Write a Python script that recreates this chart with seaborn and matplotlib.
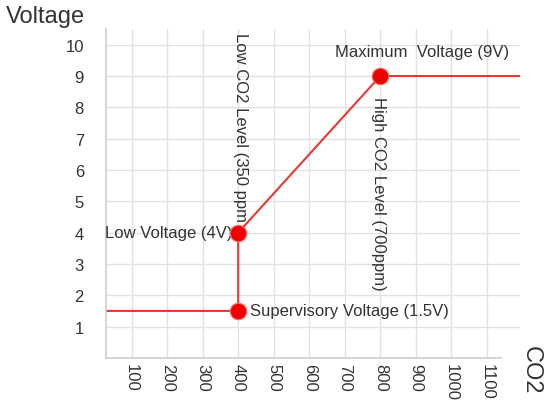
import numpy as np
import pandas as pd
import matplotlib
matplotlib.use("Agg")
import matplotlib.pyplot as plt
import seaborn as sns

# response curve of the CO2 sensor output
curve_co2 = [0, 400, 400, 800, 1200]
curve_volt = [1.5, 1.5, 4, 9, 9]

# marked key points
key_co2 = [400, 400, 800]
key_volt = [1.5, 4, 9]
key_labels = ["Supervisory Voltage (1.5V)", "Low Voltage (4V)", "Maximum  Voltage (9V)"]

x_ticks = [100, 200, 300, 400, 500, 600, 700, 800, 900, 1000, 1100]
y_ticks = [1, 2, 3, 4, 5, 6, 7, 8, 9, 10]

sns.set_theme(style="white")
plt.rcParams["font.family"] = ["Liberation Sans", "DejaVu Sans"]

fig = plt.figure(figsize=(5.47, 4.06), dpi=100)
ax = fig.add_axes([0.194, 0.116, 0.757, 0.81])

curve = pd.DataFrame({"co2": curve_co2, "volt": curve_volt})
keys = pd.DataFrame({"co2": key_co2, "volt": key_volt})

sns.lineplot(data=curve, x="co2", y="volt", sort=False, estimator=None,
             color="#e53935", linewidth=1.5, ax=ax)
sns.scatterplot(data=keys, x="co2", y="volt", s=140, color="#f00000",
                edgecolor="#ff6a6a", linewidth=0.8, zorder=5, ax=ax)

ax.set_xlim(28, 1194)
ax.set_ylim(0, 10.5)
ax.set_xticks(x_ticks)
ax.set_yticks(y_ticks)
ax.set_xticklabels([str(t) for t in x_ticks], rotation=270, fontsize=12,
                   color="#333333")
ax.set_yticklabels([str(t) for t in y_ticks], fontsize=12, color="#333333")
ax.tick_params(axis="y", length=0, pad=16)
ax.tick_params(axis="x", length=0, pad=4)
ax.grid(True, color="#e2e2e2", linewidth=1)
ax.set_axisbelow(True)
ax.set_xlabel("")
ax.set_ylabel("")

for side in ["top", "right"]:
    ax.spines[side].set_visible(False)
for side in ["left", "bottom"]:
    ax.spines[side].set_color("#d0d0d0")
ax.spines["bottom"].set_bounds(28, 1140)

txt = dict(fontsize=12, color="#333333")
ax.text(918, 9.78, key_labels[2], ha="center", va="center", **txt)
ax.text(383, 4, key_labels[1], ha="right", va="center", **txt)
ax.text(434, 1.5, key_labels[0], ha="left", va="center", **txt)
ax.text(405, 10.41, "Low CO2 Level (350 ppm", rotation=270, ha="center",
        va="top", **txt)
ax.text(794, 8.35, "High CO2 Level (700ppm)", rotation=270, ha="center",
        va="top", **txt)

fig.text(0.01, 0.958, "Voltage", fontsize=17, color="#333333", ha="left",
         va="center")
fig.text(0.97, 0.089, "CO2", fontsize=17, color="#333333", rotation=270,
         ha="center", va="center")

fig.savefig("out.png", dpi=100)
